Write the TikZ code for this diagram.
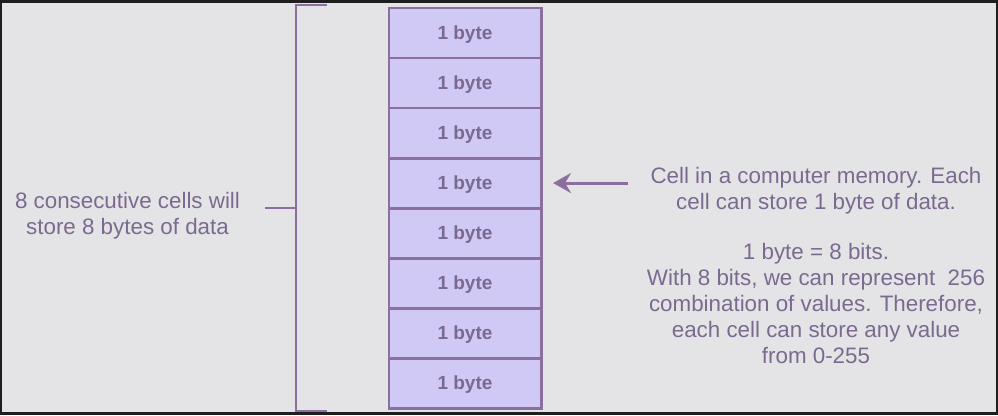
\documentclass[tikz,border=0pt]{standalone}
\usepackage{fontspec}
\setmainfont{Liberation Sans}
\usepackage{xcolor}
\definecolor{cellline}{HTML}{8B6F9E}
\definecolor{cellfill}{HTML}{D0C8F5}
\definecolor{labeltext}{HTML}{7B6A8F}
\definecolor{paper}{HTML}{E4E4E6}
\definecolor{frame}{HTML}{1E1E1E}
\usetikzlibrary{arrows.meta, positioning}

\begin{document}
\begin{tikzpicture}[x=0.025cm, y=-0.025cm, >=Stealth,
  cell/.style={draw=cellline, fill=cellfill, line width=2.1pt,
        minimum width=3.8cm, minimum height=1.25cm, inner sep=0pt, outer sep=0pt,
        text depth=0pt, font=\bfseries\fontsize{13.5}{16}\selectfont, text=labeltext},
  note/.style={align=center, inner sep=0pt, text=labeltext,
        font=\fontsize{15.9}{18.4}\selectfont}]

  % frame and paper
  \fill[frame] (0,0) rectangle (998,415);
  \fill[paper] (2,3) rectangle (996,412);

  % memory cells
  \node[cell] (cell1) at (465,33) {1 byte};
  \foreach \i [remember=\i as \j (initially 1)] in {2,...,8}
    \node[cell, below=0pt of cell\j] (cell\i) {1 byte};

  % bracket
  \coordinate (brtop) at (327,5);
  \coordinate (brbot) at (327,411);
  \coordinate (brmid) at (265,208);
  \draw[cellline, line width=2.1pt]
    (brtop) -- (296,5) -- (296,411) -- (brbot);
  \draw[cellline, line width=2.1pt] (brmid) -- (296,208);

  % texts
  \node[note] (grouptxt) at (127.5,216)
    {8 consecutive cells will\\store 8 bytes of data};
  \node[note] (celltxt) at (816,191)
    {Cell in a computer memory. Each\\cell can store 1 byte of data.};
  \node[note] (bytetxt) at (816,303.5)
    {1 byte = 8 bits.\\With 8 bits, we can represent~~256\\combination of values. Therefore,\\each cell can store any value\\from 0-255};

  \draw[->, >={Stealth[length=4.5mm, width=5mm, inset=1.5mm]}, cellline, line width=2.1pt,
        shorten <=0.55cm, shorten >=0.3cm]
    (celltxt.west |- cell4.east) -- (cell4.east);

\end{tikzpicture}
\end{document}
